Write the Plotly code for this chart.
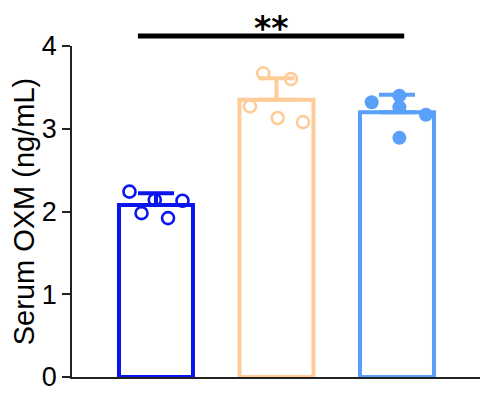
import plotly.graph_objects as go

groups = ["G1", "G2", "G3"]
colors = ["#0A14EE", "#FFCC99", "#58A0FA"]
bar_means = [2.08, 3.35, 3.20]
bar_sd = [0.14, 0.26, 0.21]
pts_g1 = [2.24, 2.14, 2.13, 1.98, 1.92]
pts_g2 = [3.67, 3.60, 3.27, 3.13, 3.08]
pts_g3 = [3.32, 3.40, 3.26, 3.17, 2.89]
jit_g1 = [-0.22, -0.01, 0.22, -0.12, 0.10]
jit_g2 = [-0.11, 0.12, -0.22, 0.01, 0.22]
jit_g3 = [-0.21, 0.02, 0.02, 0.24, 0.02]
y_ticks = [0, 1, 2, 3, 4]
y_max = 4
sig_pair = [-0.15, 2.06]
sig_level = 4.12
sig_text = "**"

W, H = 493, 385
M = dict(l=64, r=21, t=38, b=16)
plot_h = H - M["t"] - M["b"]

fig = go.Figure()
for i in range(3):
    fig.add_trace(go.Bar(
        x=[i], y=[bar_means[i]], width=0.614,
        marker=dict(color="white", line=dict(color=colors[i], width=4)),
        error_y=dict(type="data", symmetric=False, array=[bar_sd[i]], arrayminus=[0],
                     color=colors[i], thickness=4, width=18),
        showlegend=False))

pts = [pts_g1, pts_g2, pts_g3]
jits = [jit_g1, jit_g2, jit_g3]
symbols = ["circle-open", "circle-open", "circle"]
for i in range(3):
    fig.add_trace(go.Scatter(
        x=[i + j for j in jits[i]], y=pts[i], mode="markers",
        marker=dict(symbol=symbols[i], size=12 if i < 2 else 14, color=colors[i],
                    line=dict(color=colors[i], width=2.6 if i < 2 else 0)),
        showlegend=False, cliponaxis=False))

fig.add_shape(type="line", xref="x", yref="paper",
              x0=sig_pair[0], x1=sig_pair[1],
              y0=sig_level / y_max, y1=sig_level / y_max,
              line=dict(color="black", width=5))
fig.add_annotation(x=(sig_pair[0] + sig_pair[1]) / 2, xref="x",
                   y=1 + M["t"] / plot_h, yref="paper", text="<b>" + sig_text + "</b>",
                   showarrow=False, borderpad=0,
                   font=dict(size=33, color="black", family="DejaVu Sans"),
                   yanchor="top")

fig.update_layout(
    width=W, height=H,
    margin=dict(**M, autoexpand=False),
    paper_bgcolor="white", plot_bgcolor="white",
    font=dict(family="Liberation Sans, Arial, sans-serif", color="black"),
    barmode="overlay",
    xaxis=dict(range=[-0.697, 2.689], showticklabels=False, ticks="",
               showline=True, linecolor="#222", linewidth=1.5,
               showgrid=False, zeroline=False, automargin=False),
    yaxis=dict(range=[0, y_max], tickvals=y_ticks, ticks="outside", ticklen=8,
               tickwidth=1.5, tickcolor="#222",
               showline=True, linecolor="#222", linewidth=1.5,
               showgrid=False, zeroline=False, automargin=False,
               tickfont=dict(size=27),
               title=dict(text="Serum OXM (ng/mL)", font=dict(size=29), standoff=8)),
)

fig.write_html("out.html")
